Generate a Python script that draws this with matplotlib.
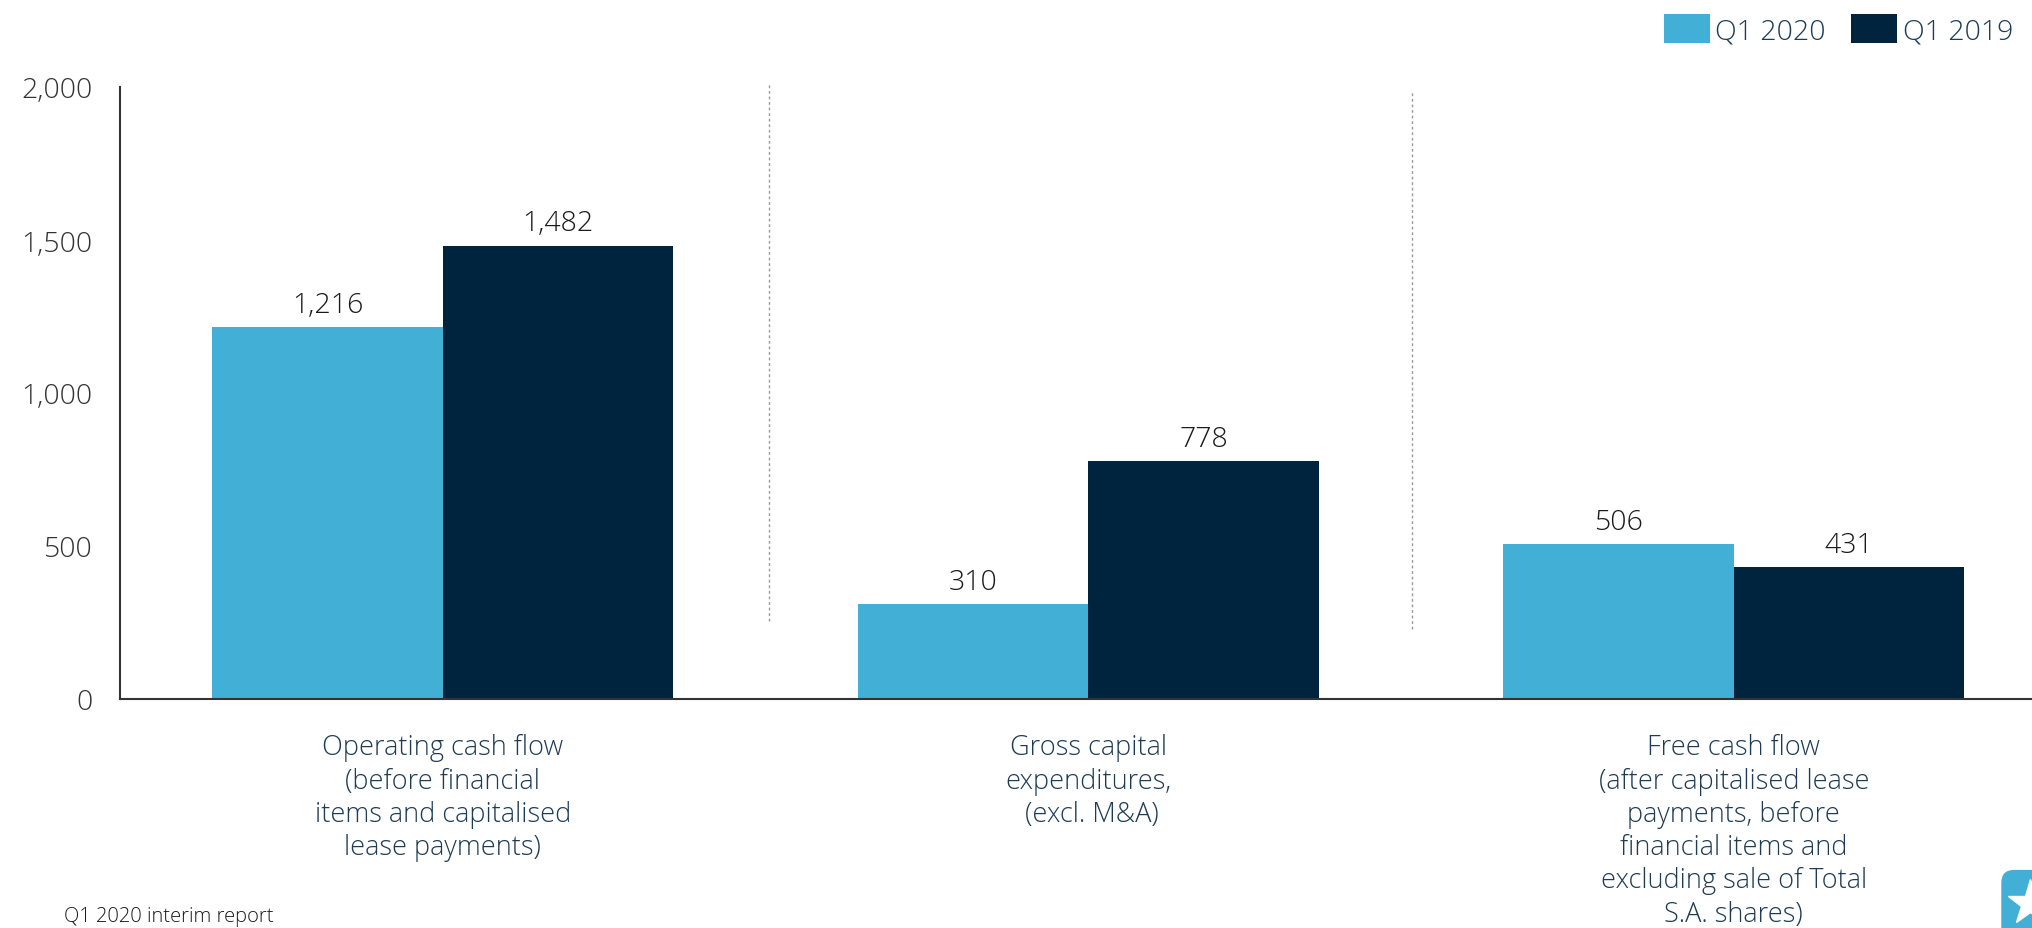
import numpy as np
import matplotlib.pyplot as plt
from matplotlib.patches import FancyBboxPatch
from matplotlib.lines import Line2D

categories = [
    "Operating cash flow\n(before financial\nitems and capitalised\nlease payments)",
    "Gross capital\nexpenditures,\n (excl. M&A)",
    "Free cash flow\n(after capitalised lease\npayments, before\nfinancial items and\nexcluding sale of Total\nS.A. shares)",
]
q1_2020 = [1216, 310, 506]
q1_2019 = [1482, 778, 431]
series_names = ["Q1 2020", "Q1 2019"]

light = "#42AFD6"
dark = "#00243D"
navy_text = "#1D3B55"

plt.rcParams['font.family'] = ['Open Sans', 'DejaVu Sans']
plt.rcParams['font.weight'] = 'light'

fig = plt.figure(figsize=(20.32, 9.29), dpi=100)
ax = fig.add_axes([120 / 2032, 1 - 700 / 929, 1 - 120 / 2032, (700 - 88) / 929])

x = np.arange(len(categories))
w = 0.357
b1 = ax.bar(x - w / 2, q1_2020, w, color=light, label=series_names[0])
b2 = ax.bar(x + w / 2, q1_2019, w, color=dark, label=series_names[1])
for bars in (b1, b2):
    ax.bar_label(bars, labels=[f"{v:,}" for v in bars.datavalues], padding=6,
                 fontsize=20.5, color="#1a1a1a")

# dashed separators between groups
ax.plot([0.506, 0.506], [254, 2013], ls=(0, (2, 2)), lw=1, color="#999999", clip_on=False)
ax.plot([1.502, 1.502], [229, 1983], ls=(0, (2, 2)), lw=1, color="#999999", clip_on=False)

ax.set_xlim(-0.5, 2.462)
ax.set_ylim(0, 2000)
ax.set_yticks([0, 500, 1000, 1500, 2000])
ax.set_yticklabels(["0", "500", "1,000", "1,500", "2,000"])
ax.tick_params(axis='y', length=0, pad=20, labelsize=20.5, labelcolor="#333333")
ax.set_xticks([])
for s in ("top", "right"):
    ax.spines[s].set_visible(False)
for s in ("left", "bottom"):
    ax.spines[s].set_color("#333333")
    ax.spines[s].set_linewidth(1.5)

for xi, cat in zip(x, categories):
    ax.text(xi, -112, cat, ha="center", va="top", fontsize=19.5, color=navy_text,
            linespacing=1.25)

fig.legend(loc="upper right", bbox_to_anchor=(2013 / 2032, 1 - 15 / 929), ncol=2,
           frameon=False, fontsize=20.5, handlelength=1.6, handleheight=1.2,
           handletextpad=0.2, columnspacing=0.9, borderpad=0, borderaxespad=0,
           labelcolor=navy_text)

fig.text(64 / 2032, 1 - 922 / 929, "Q1 2020 interim report", fontsize=14.5,
         color="#1a1a1a", va="baseline")

# logo tile in the corner
tile = FancyBboxPatch((2002 / 2032, -0.02), 0.03, 76 / 929, boxstyle="round,pad=0,rounding_size=0.006",
                      transform=fig.transFigure, color=light, clip_on=False, mutation_aspect=2.2)
fig.add_artist(tile)
fig.add_artist(Line2D([2030 / 2032], [1 - 904 / 929], marker="*", markersize=34, color="white",
                      transform=fig.transFigure, clip_on=False))

fig.savefig("out.png", dpi=100)
